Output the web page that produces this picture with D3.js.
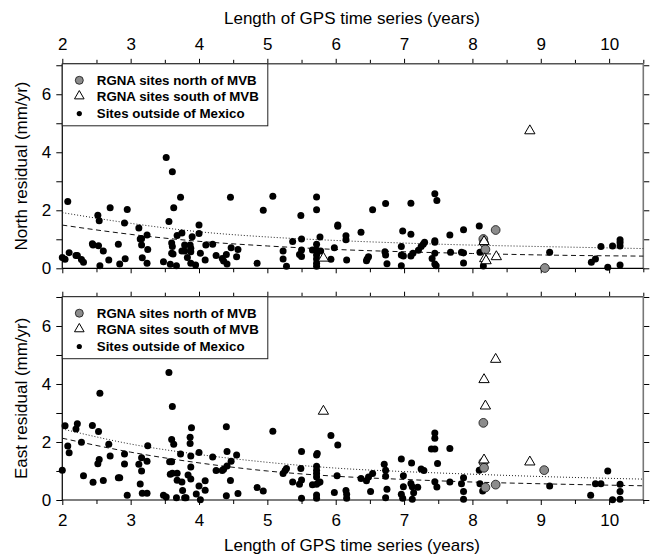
<!DOCTYPE html>
<html>
<head>
<meta charset="utf-8">
<script src="https://cdn.jsdelivr.net/npm/d3@7/dist/d3.min.js"></script>
<style>
  html, body { margin: 0; padding: 0; background: #fff; }
  svg { display: block; font-family: "Liberation Sans", Arial, Helvetica, sans-serif; }
</style>
</head>
<body>
<svg id="chart" width="652" height="556"></svg>
<script>
// Residual velocity vs. length of GPS time series, north and east components.
const xMajorTicks = [2, 3, 4, 5, 6, 7, 8, 9, 10];
const xMinorTicks = [2.5, 3.5, 4.5, 5.5, 6.5, 7.5, 8.5, 9.5, 10.5];
const yTicks = [0, 1, 2, 3, 4, 5, 6, 7];
const yLabelTicks = [0, 2, 4, 6];
const xTitle = "Length of GPS time series (years)";
const legendLabels = ["RGNA sites north of MVB", "RGNA sites south of MVB", "Sites outside of Mexico"];

// [years, residual mm/yr]
const northOutside = [
  [2.08,2.30],[2.00,0.37],[2.04,0.31],[2.10,0.54],[2.20,0.44],[2.22,0.44],[2.28,0.30],[2.31,0.21],
  [2.44,0.85],[2.45,0.80],[2.52,1.83],[2.54,1.64],[2.53,0.78],[2.55,0.09],[2.60,0.60],[2.68,0.29],
  [2.70,2.09],[2.82,0.83],[2.84,0.15],[2.91,1.56],[2.92,0.33],[2.95,2.03],[3.12,1.39],[3.14,1.01],
  [3.16,1.02],[3.24,1.15],[3.16,0.80],[3.17,0.36],[3.25,0.65],[3.24,0.17],[3.48,0.23],[3.52,3.82],
  [3.56,1.61],[3.58,0.14],[3.60,0.87],[3.61,3.33],[3.61,0.75],[3.60,0.52],[3.62,0.49],[3.63,2.09],
  [3.68,1.13],[3.67,0.09],[3.73,2.45],[3.75,1.22],[3.75,0.60],[3.79,0.60],[3.79,0.80],[3.83,0.37],
  [3.87,0.80],[3.88,0.69],[3.88,0.57],[3.88,0.17],[3.90,1.09],[3.95,0.11],[4.00,1.49],[4.00,1.20],
  [4.02,0.52],[4.09,0.29],[4.10,0.80],[4.20,0.83],[4.25,0.44],[4.34,0.34],[4.36,0.25],[4.40,0.48],
  [4.41,0.15],[4.46,2.45],[4.47,0.71],[4.55,0.40],[4.57,0.65],
  [4.85,0.17],[4.94,2.00],[5.08,2.48],[5.23,0.60],[5.23,0.32],[5.28,0.07],[5.37,0.92],[5.49,1.82],
  [5.50,1.01],[5.47,0.48],[5.50,0.63],[5.50,0.41],[5.66,0.63],[5.72,2.46],[5.72,2.02],[5.77,1.08],
  [5.72,0.83],[5.72,0.63],[5.72,0.46],[5.72,0.32],[5.72,0.17],[5.72,0.07],[5.78,0.60],[5.93,0.31],
  [5.98,0.71],[6.03,1.49],[6.03,1.45],[6.16,0.29],[6.15,1.12],[6.15,0.98],[6.37,1.24],[6.45,0.26],
  [6.48,0.40],[6.46,0.32],[6.54,2.02],[6.72,0.57],[6.73,0.46],[6.73,2.23],[6.75,0.16],[6.96,0.75],
  [6.96,0.46],[6.96,0.09],[6.98,1.29],[6.99,0.42],[7.10,1.17],[7.10,2.24],[7.10,0.42],[7.13,0.52],
  [7.21,0.62],[7.25,0.75],[7.28,0.83],[7.30,0.90],[7.45,2.57],[7.48,2.34],[7.45,0.95],[7.45,0.90],
  [7.45,0.52],[7.41,0.34],[7.45,0.15],[7.47,0.09],[7.67,1.15],
  [7.68,0.55],[7.84,0.55],[7.87,0.53],[7.87,1.33],[7.87,0.18],[8.10,1.46],[8.11,0.55],[8.16,0.08],
  [9.13,0.55],[9.74,0.21],[9.80,0.32],[9.88,0.75],[9.98,0.04],[10.05,0.77],[10.16,0.98],[10.16,0.89],
  [10.16,0.77],[10.16,0.11]
];
const northRgnaN = [[8.16,1.01],[8.17,0.87],[8.19,0.65],[8.34,1.32],[9.06,0.01]];
const northRgnaS = [[8.84,4.74],[8.17,0.92],[8.18,0.33],[8.20,0.26],[8.35,0.40],[5.82,0.35]];

const eastOutside = [
  [2.00,1.03],[2.04,2.56],[2.08,1.86],[2.10,1.63],[2.20,2.45],[2.22,2.63],[2.28,1.99],[2.31,0.84],
  [2.44,2.57],[2.45,0.61],[2.53,2.36],[2.55,3.68],[2.54,1.40],[2.52,1.25],[2.60,0.67],[2.68,1.92],
  [2.70,1.52],[2.82,0.77],[2.84,0.77],[2.91,1.59],[2.91,1.24],[2.95,0.16],[3.12,1.23],[3.14,0.55],
  [3.16,1.00],[3.16,1.46],[3.17,0.23],[3.24,0.23],[3.24,1.34],[3.25,1.87],[3.48,0.16],[3.52,0.10],
  [3.56,4.40],[3.57,1.32],[3.60,1.32],[3.58,0.89],[3.61,0.92],[3.68,0.92],[3.60,2.09],[3.61,3.22],
  [3.63,1.92],[3.67,0.08],[3.68,0.68],[3.75,0.62],[3.73,1.59],[3.76,0.33],[3.79,0.08],[3.81,0.08],
  [3.84,0.86],[3.87,2.16],[3.87,1.95],[3.88,1.52],[3.88,1.14],[3.88,0.72],[3.89,2.49],[3.96,0.21],
  [4.00,1.64],[4.00,0.48],[4.02,0.01],[4.09,0.34],[4.09,0.66],[4.20,1.48],[4.25,1.02],[4.34,1.02],
  [4.36,1.06],[4.40,2.53],[4.40,0.15],[4.41,1.67],[4.41,1.17],[4.46,0.67],[4.47,1.34],[4.55,1.55],
  [4.57,0.22],
  [4.85,0.43],[4.94,0.31],[5.08,2.37],[5.23,0.91],[5.26,1.02],[5.28,1.09],[5.37,0.62],[5.49,1.09],
  [5.50,1.67],[5.47,0.54],[5.50,0.69],[5.50,0.06],[5.66,0.53],[5.72,0.54],[5.75,0.60],[5.77,0.62],
  [5.72,1.55],[5.73,1.60],[5.72,1.16],[5.72,1.03],[5.72,0.91],[5.72,0.79],[5.72,0.17],[5.72,0.06],
  [5.93,2.22],[5.98,0.26],[6.02,0.84],[6.03,1.90],[6.15,0.33],[6.16,0.20],[6.16,0.06],[6.37,0.74],
  [6.45,0.66],[6.48,0.79],[6.54,0.91],[6.51,0.29],[6.71,1.23],[6.73,1.03],[6.73,0.82],[6.75,0.37],
  [6.73,0.08],[6.96,1.41],[6.99,0.84],[6.99,0.46],[6.96,0.20],[6.98,0.06],[7.10,0.57],[7.12,0.46],
  [7.14,0.25],[7.12,0.03],[7.11,1.28],[7.20,0.44],[7.25,1.07],[7.29,1.02],[7.45,2.31],[7.45,2.13],
  [7.40,1.76],[7.45,1.76],[7.49,1.26],[7.45,0.63],[7.48,0.45],[7.67,0.62],[7.67,1.78],
  [7.84,0.56],[7.87,0.77],[7.87,0.29],[7.87,0.03],[8.10,1.03],[8.11,0.56],[8.15,0.31],[9.13,0.48],
  [9.73,0.16],[9.80,0.56],[9.88,0.56],[9.98,1.00],[10.05,0.01],[10.16,0.54],[10.16,0.29],[10.16,0.03]
];
const eastRgnaN = [[8.16,2.66],[8.16,1.30],[8.17,1.11],[8.19,0.43],[8.34,0.53],[9.05,1.03]];
const eastRgnaS = [[8.34,4.85],[8.17,4.15],[8.19,3.24],[8.17,1.38],[8.84,1.31],[5.82,3.06]];

// Reference curves (dotted and dashed)
const northDotted = [[2,1.92],[3,1.55],[4,1.26],[5,1.08],[6,0.96],[7,0.87],[8,0.80],[9,0.75],[10.5,0.68]];
const northDashed = [[2,1.49],[3,1.17],[4,0.93],[5,0.77],[6,0.65],[7,0.57],[8,0.51],[9,0.46],[10.5,0.42]];
const eastDotted  = [[2,2.45],[3,1.93],[4,1.57],[5,1.30],[6,1.10],[7,0.98],[8,0.89],[9,0.81],[10.5,0.72]];
const eastDashed  = [[2,2.13],[3,1.65],[4,1.28],[5,1.00],[6,0.82],[7,0.71],[8,0.62],[9,0.56],[10.5,0.49]];

const svg = d3.select("#chart");
const FONT = 17;

const x = d3.scaleLinear().domain([2, 10.5]).range([62.3, 643.3]);

const panels = [
  { name: "North residual (mm/yr)", top: 63.8, bottom: 268.3, ymax: 7.05,
    outside: northOutside, rgnaN: northRgnaN, rgnaS: northRgnaS,
    dotted: northDotted, dashed: northDashed, labelsTop: true },
  { name: "East residual (mm/yr)", top: 296.7, bottom: 500, ymax: 7.01,
    outside: eastOutside, rgnaN: eastRgnaN, rgnaS: eastRgnaS,
    dotted: eastDotted, dashed: eastDashed, labelsTop: false }
];

function styleAxis(g) {
  g.select(".domain").remove();
  g.selectAll(".tick line").attr("stroke", "#000").attr("stroke-width", 1);
  g.selectAll(".tick text").attr("font-size", FONT).attr("fill", "#000")
    .attr("font-family", "'Liberation Sans', Arial, sans-serif");
}

const triangle = d3.symbol().type(d3.symbolTriangle);

panels.forEach(p => {
  const y = d3.scaleLinear().domain([0, p.ymax]).range([p.bottom, p.top]);
  const g = svg.append("g");
  const fmtInt = d => String(d);
  const [x0, x1] = x.range();

  // x axes: top and bottom edges, major + minor ticks
  const topMajor = d3.axisTop(x).tickValues(xMajorTicks).tickSizeInner(5).tickSizeOuter(0)
    .tickPadding(9).tickFormat(p.labelsTop ? fmtInt : "");
  const topMinor = d3.axisTop(x).tickValues(xMinorTicks).tickSizeInner(4).tickSizeOuter(0).tickFormat("");
  const botMajor = d3.axisBottom(x).tickValues(xMajorTicks).tickSizeInner(5).tickSizeOuter(0)
    .tickPadding(9).tickFormat(p.labelsTop ? "" : fmtInt);
  const botMinor = d3.axisBottom(x).tickValues(xMinorTicks).tickSizeInner(4).tickSizeOuter(0).tickFormat("");
  g.append("g").attr("transform", `translate(0,${p.top})`).call(topMajor).call(styleAxis);
  g.append("g").attr("transform", `translate(0,${p.top})`).call(topMinor).call(styleAxis);
  g.append("g").attr("transform", `translate(0,${p.bottom})`).call(botMajor).call(styleAxis);
  g.append("g").attr("transform", `translate(0,${p.bottom})`).call(botMinor).call(styleAxis);

  // y axes: left labelled, right ticks only
  const left = d3.axisLeft(y).tickValues(yTicks).tickSizeInner(6).tickSizeOuter(0).tickPadding(5)
    .tickFormat(d => yLabelTicks.includes(d) ? String(d) : "");
  const right = d3.axisRight(y).tickValues(yTicks).tickSizeInner(6).tickSizeOuter(0).tickFormat("");
  g.append("g").attr("transform", `translate(${x0},0)`).call(left).call(styleAxis);
  g.append("g").attr("transform", `translate(${x1},0)`).call(right).call(styleAxis);

  // frame: top and right edges in grey, left edge and zero line in black
  g.append("line").attr("x1", x0).attr("x2", x1).attr("y1", p.top).attr("y2", p.top)
    .attr("stroke", "#555").attr("stroke-width", 1.4);
  g.append("line").attr("x1", x1).attr("x2", x1).attr("y1", p.top).attr("y2", p.bottom)
    .attr("stroke", "#777").attr("stroke-width", 1.6);
  g.append("line").attr("x1", x0).attr("x2", x0).attr("y1", p.top).attr("y2", p.bottom)
    .attr("stroke", "#111").attr("stroke-width", 1.3);
  g.append("line").attr("x1", x0).attr("x2", x1).attr("y1", p.bottom).attr("y2", p.bottom)
    .attr("stroke", "#000").attr("stroke-width", 1.2);

  // y title
  g.append("text")
    .attr("transform", `translate(27,${(p.top + p.bottom) / 2}) rotate(-90)`)
    .attr("text-anchor", "middle").attr("font-size", FONT).text(p.name);

  // curves
  const line = d3.line().x(d => x(d[0])).y(d => y(d[1])).curve(d3.curveMonotoneX);
  g.append("path").datum(p.dotted).attr("d", line).attr("fill", "none")
    .attr("stroke", "#222").attr("stroke-width", 1).attr("stroke-dasharray", "1,2");
  g.append("path").datum(p.dashed).attr("d", line).attr("fill", "none")
    .attr("stroke", "#111").attr("stroke-width", 1).attr("stroke-dasharray", "5,3.5");

  // points
  g.append("g").selectAll("circle").data(p.outside).join("circle")
    .attr("cx", d => x(d[0])).attr("cy", d => y(d[1])).attr("r", 3.5).attr("fill", "#000");
  g.append("g").selectAll("circle").data(p.rgnaN).join("circle")
    .attr("cx", d => x(d[0])).attr("cy", d => y(d[1])).attr("r", 4.4)
    .attr("fill", "#8c8c8c").attr("stroke", "#111").attr("stroke-width", 0.8);
  g.append("g").selectAll("path").data(p.rgnaS).join("path")
    .attr("d", triangle.size(46))
    .attr("transform", d => `translate(${x(d[0])},${y(d[1])})`)
    .attr("fill", "#fff").attr("stroke", "#000").attr("stroke-width", 1);

  // legend
  const lg = g.append("g").attr("transform", `translate(${x0},${p.top})`);
  lg.append("rect").attr("x", 0).attr("y", 0).attr("width", 205.5).attr("height", 62)
    .attr("fill", "#fff").attr("stroke", "#222").attr("stroke-width", 1);
  const rows = [16.5, 32.3, 49.8];
  lg.append("circle").attr("cx", 17).attr("cy", rows[0]).attr("r", 4)
    .attr("fill", "#8c8c8c").attr("stroke", "#111").attr("stroke-width", 0.8);
  lg.append("path").attr("d", triangle.size(40)).attr("transform", `translate(17,${rows[1]})`)
    .attr("fill", "#fff").attr("stroke", "#000").attr("stroke-width", 1);
  lg.append("circle").attr("cx", 17).attr("cy", rows[2]).attr("r", 2.6).attr("fill", "#000");
  legendLabels.forEach((t, i) => {
    lg.append("text").attr("x", 34.5).attr("y", rows[i]).attr("dy", "0.35em")
      .attr("font-size", 13.3).attr("font-weight", "bold").text(t);
  });
});

// x titles
svg.append("text").attr("x", 352).attr("y", 24).attr("text-anchor", "middle")
  .attr("font-size", FONT).text(xTitle);
svg.append("text").attr("x", 352).attr("y", 551).attr("text-anchor", "middle")
  .attr("font-size", FONT).text(xTitle);
</script>
</body>
</html>
